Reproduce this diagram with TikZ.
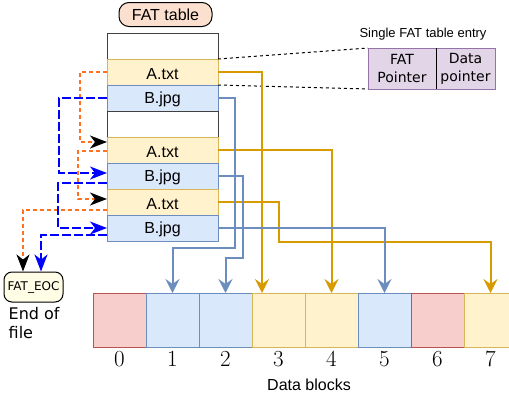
\documentclass[tikz,border=0pt]{standalone}
\usepackage{fontspec}
\newfontfamily\arialf{Liberation Sans}
\newfontfamily\dejavu{DejaVu Sans}
\usetikzlibrary{arrows.meta,positioning}

\definecolor{amarF}{HTML}{FFF2CC}
\definecolor{amarB}{HTML}{D6B656}
\definecolor{amarL}{HTML}{D79B00}
\definecolor{azulF}{HTML}{DAE8FC}
\definecolor{azulB}{HTML}{6C8EBF}
\definecolor{rojoF}{HTML}{F8CECC}
\definecolor{rojoB}{HTML}{B85450}
\definecolor{moraF}{HTML}{E1D5E7}
\definecolor{moraB}{HTML}{9673A6}
\definecolor{naranja}{HTML}{FF7020}
\definecolor{durazno}{HTML}{FCE0CF}
\definecolor{crema}{HTML}{FFFDE6}

\tikzset{
  celda/.style={minimum width=111pt, minimum height=26pt, inner sep=0pt, outer sep=0pt, anchor=north west,
                line width=1pt, font=\arialf\fontsize{16}{19}\selectfont, text height=11pt, text depth=0pt},
  vacia/.style={draw=black!75},
  amar/.style={fill=amarF, draw=amarB},
  azul/.style={fill=azulF, draw=azulB},
  rojo/.style={fill=rojoF, draw=rojoB},
  bloque/.style={minimum width=53pt, minimum height=54pt, inner sep=0pt, outer sep=0pt, anchor=north west, line width=1pt},
  num/.style={font=\fontsize{23}{26}\selectfont, inner sep=0pt},
  entrada/.style={fill=moraF, draw=moraB, line width=1pt, minimum height=41pt, inner sep=0pt, outer sep=0pt,
                  anchor=north west, align=center, font=\dejavu\fontsize{14}{18}\selectfont},
  rotulo/.style={font=\arialf\fontsize{16}{19}\selectfont, inner sep=0pt},
  flechaA/.style={draw=amarL, line width=2pt, -{Stealth[length=14pt, width=14pt, inset=5pt]}},
  flechaB/.style={draw=azulB, line width=2pt, -{Stealth[length=14pt, width=14pt, inset=5pt]}},
  ptrA/.style={draw=naranja, line width=1.5pt, dash pattern=on 4pt off 3pt, -{Stealth[black, length=17pt, width=13pt, inset=5pt]}},
  ptrB/.style={draw=blue, line width=1.5pt, dash pattern=on 9pt off 3pt, -{Stealth[blue, length=17pt, width=13pt, inset=5pt]}},
  guia/.style={draw=black, line width=1pt, dash pattern=on 3pt off 3pt}
}

\begin{document}
\begin{tikzpicture}[x=1pt, y=-1pt]
  \useasboundingbox (0,0) rectangle (509,399);

  % FAT table
  \node[celda, vacia] (e1) at (107,33)  {};
  \node[celda, amar, text height=15pt]  (a1) at (107,59)  {A.txt};
  \node[celda, azul]  (b1) at (107,85)  {B.jpg};
  \node[celda, vacia] (e2) at (107,111) {};
  \node[celda, amar, text height=15pt]  (a2) at (107,137) {A.txt};
  \node[celda, azul]  (b2) at (107,163) {B.jpg};
  \node[celda, amar, text height=15pt]  (a3) at (107,189) {A.txt};
  \node[celda, azul]  (b3) at (107,215) {B.jpg};
  \node[rotulo, draw=black, fill=durazno, line width=1pt, rounded corners=10pt,
        minimum width=93pt, minimum height=24pt, above=6pt of e1, xshift=3pt] (tt) {FAT table};

  % single entry
  \node[entrada, minimum width=68pt] (fp) at (368,48) {FAT\\Pointer};
  \node[entrada, minimum width=59pt] (dp) at (fp.north east) {Data\\pointer};
  \draw[black, line width=1pt] (fp.north east) -- (fp.south east);
  \node[font=\arialf\fontsize{13}{15}\selectfont, inner sep=0pt] (se) at (423,34) {Single FAT table entry};
  \draw[guia] (a1.north east) -- (fp.north west);
  \draw[guia] (a1.south east) -- (fp.south west);

  % data blocks
  \foreach \i/\s in {0/rojo,1/azul,2/azul,3/amar,4/amar,5/azul,6/rojo,7/amar} {
    \node[bloque, \s] (d\i) at (93+53*\i,293) {};
    \node[num, below=4pt of d\i] (n\i) {\i};
  }
  \node[rotulo] (db) at (309,385) {Data blocks};

  % end of chain
  \node[draw=black, fill=crema, line width=1pt, rounded corners=8pt, minimum width=59pt, minimum height=30pt,
        inner sep=1pt, font=\dejavu\fontsize{12}{14}\selectfont] (eoc) at (33.5,287) {FAT\_EOC};
  \node[anchor=north west, align=left, inner sep=0pt, font=\dejavu\fontsize{16}{19}\selectfont]
        (fin) at ([xshift=5pt, yshift=-5pt]eoc.south west) {End of\\file};

  % data pointers
  \draw[flechaA] (a1.east) -| ([xshift=10pt]d3.north west);
  \draw[flechaA] (a2.east) -| (d4.north);
  \draw[flechaA] (a3.east) -| (279,242) -| (d7.north);
  \draw[flechaB] (b1.east) -| (235,248) -| (d1.north);
  \draw[flechaB] (b2.east) -| (243,258) -| (d2.north);
  \draw[flechaB] (b3.east) -| (d5.north);

  % FAT pointers
  \draw[ptrA] (a1.west) -- ++(-27,0) |- ([yshift=8pt]a2.west);
  \draw[ptrA] ([yshift=-1pt]a2.west) -- ++(-29,0) |- ([yshift=3pt]a3.west);
  \draw[ptrA] ([yshift=-8pt]a3.west) -| ([xshift=-10.5pt]eoc.north);
  \draw[ptrB] (b1.west) -- ++(-48,0) |- ([yshift=3pt]b2.west);
  \draw[ptrB] ([yshift=-7pt]b2.west) -- ++(-49,0) |- (b3.west);
  \draw[ptrB] ([yshift=-7pt]b3.west) -| ([xshift=7.5pt]eoc.north);
\end{tikzpicture}
\end{document}
